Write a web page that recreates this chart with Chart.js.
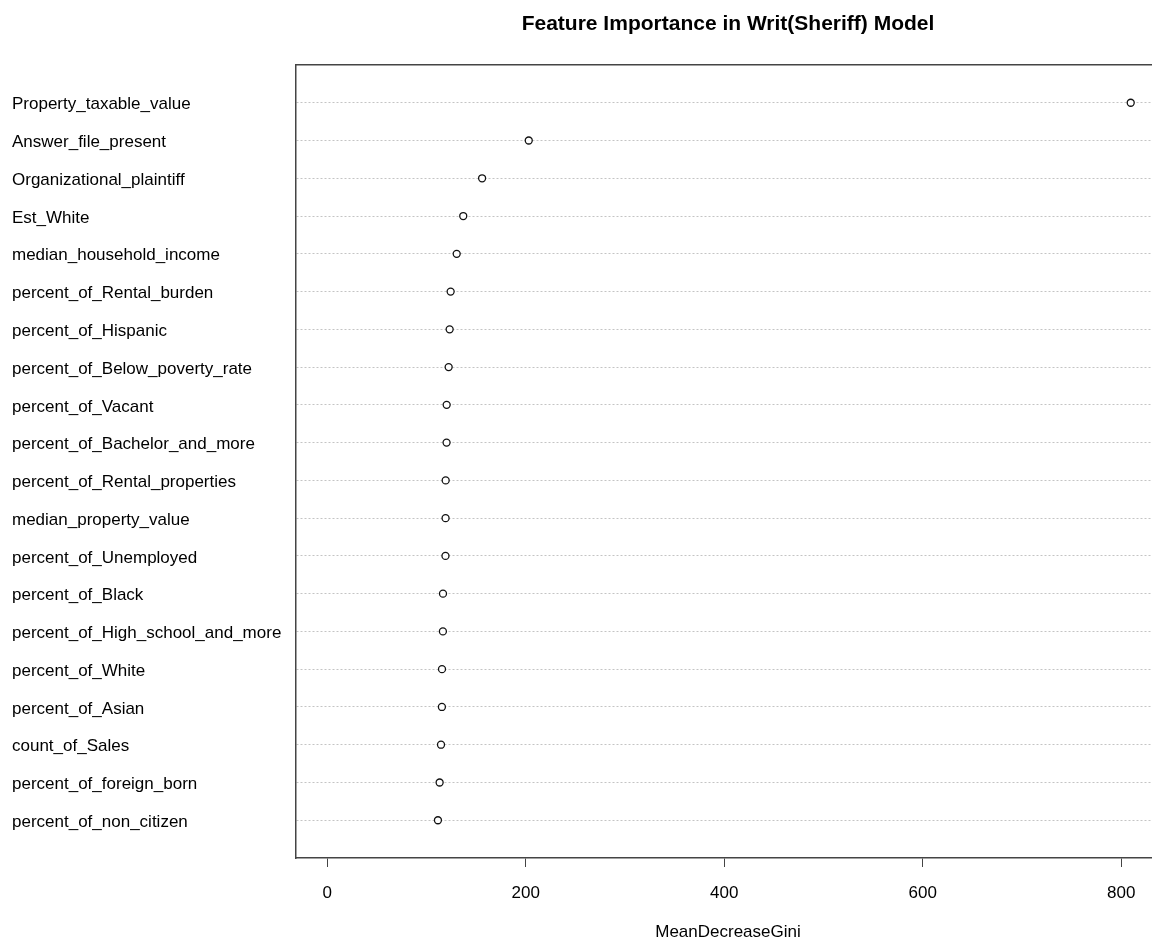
<!DOCTYPE html>
<html>
<head>
<meta charset="utf-8">
<script src="https://cdn.jsdelivr.net/npm/chart.js@4"></script>
<style>
  html, body { margin: 0; padding: 0; background: #fff; overflow: hidden; }
  #wrap { width: 1180px; height: 943px; }
</style>
</head>
<body>
<div id="wrap"><canvas id="impChart"></canvas></div>
<script>
// top to bottom, as in the plot
const features = [
    'Property_taxable_value',
    'Answer_file_present',
    'Organizational_plaintiff',
    'Est_White',
    'median_household_income',
    'percent_of_Rental_burden',
    'percent_of_Hispanic',
    'percent_of_Below_poverty_rate',
    'percent_of_Vacant',
    'percent_of_Bachelor_and_more',
    'percent_of_Rental_properties',
    'median_property_value',
    'percent_of_Unemployed',
    'percent_of_Black',
    'percent_of_High_school_and_more',
    'percent_of_White',
    'percent_of_Asian',
    'count_of_Sales',
    'percent_of_foreign_born',
    'percent_of_non_citizen'
];
const meanDecreaseGini = [
    809.5, 203, 156, 137, 130.4, 124.3, 123.3, 122.3, 120.3, 120.2,
    119.3, 119.2, 119.1, 116.6, 116.5, 115.6, 115.5, 114.6, 113.2, 111.5
];
const xTicks = [0, 200, 400, 600, 800];

const n = features.length;
const points = meanDecreaseGini.map((v, i) => ({ x: v, y: n - i }));

const font = { family: '"Liberation Sans", Arial, sans-serif', size: 17 };
const boxColor = '#444';

new Chart(document.getElementById('impChart'), {
    type: 'scatter',
    data: {
        datasets: [{
            data: points,
            showLine: false,
            pointStyle: 'circle',
            pointRadius: 3.5,
            pointBorderWidth: 1.3,
            pointBorderColor: '#111',
            pointBackgroundColor: '#fff'
        }]
    },
    options: {
        responsive: true,
        maintainAspectRatio: false,
        animation: false,
        layout: { padding: { left: 12, right: 20, top: 0, bottom: 0 } },
        plugins: { legend: { display: false }, tooltip: { enabled: false } },
        scales: {
            x: {
                type: 'linear',
                position: 'bottom',
                min: -31.5,
                max: 839,
                afterBuildTicks: s => { s.ticks = xTicks.map(v => ({ value: v })); },
                afterFit: s => { s.height = 85; },
                grid: { drawOnChartArea: false, drawTicks: true, tickLength: 9, tickColor: boxColor, tickWidth: 1 },
                border: { color: boxColor, width: 1.5 },
                ticks: { color: '#000', font: font, padding: 16, maxRotation: 0 },
                title: { display: true, text: 'MeanDecreaseGini', color: '#000', font: font, padding: { top: 0, bottom: 0 } }
            },
            x2: {
                type: 'linear',
                position: 'top',
                min: -31.5,
                max: 839,
                afterFit: s => { s.height = 65; },
                grid: { display: false },
                border: { color: boxColor, width: 1.5 },
                ticks: { display: false },
                title: {
                    display: true,
                    text: 'Feature Importance in Writ(Sheriff) Model',
                    color: '#000',
                    font: { family: font.family, size: 21, weight: 'bold' },
                    padding: { top: 12, bottom: 0 }
                }
            },
            y: {
                type: 'linear',
                min: 0,
                max: n + 1,
                afterBuildTicks: s => { s.ticks = features.map((_, i) => ({ value: i + 1 })); },
                afterFit: s => { s.width = 284; },
                grid: { color: '#c4c4c4', lineWidth: 1, drawTicks: false, tickLength: 0 },
                border: { color: boxColor, width: 1.5, dash: [2, 2] },
                ticks: {
                    color: '#000',
                    font: font,
                    padding: 0,
                    labelOffset: 2,
                    crossAlign: 'far',
                    callback: v => features[n - v]
                }
            }
        }
    }
});
</script>
</body>
</html>
